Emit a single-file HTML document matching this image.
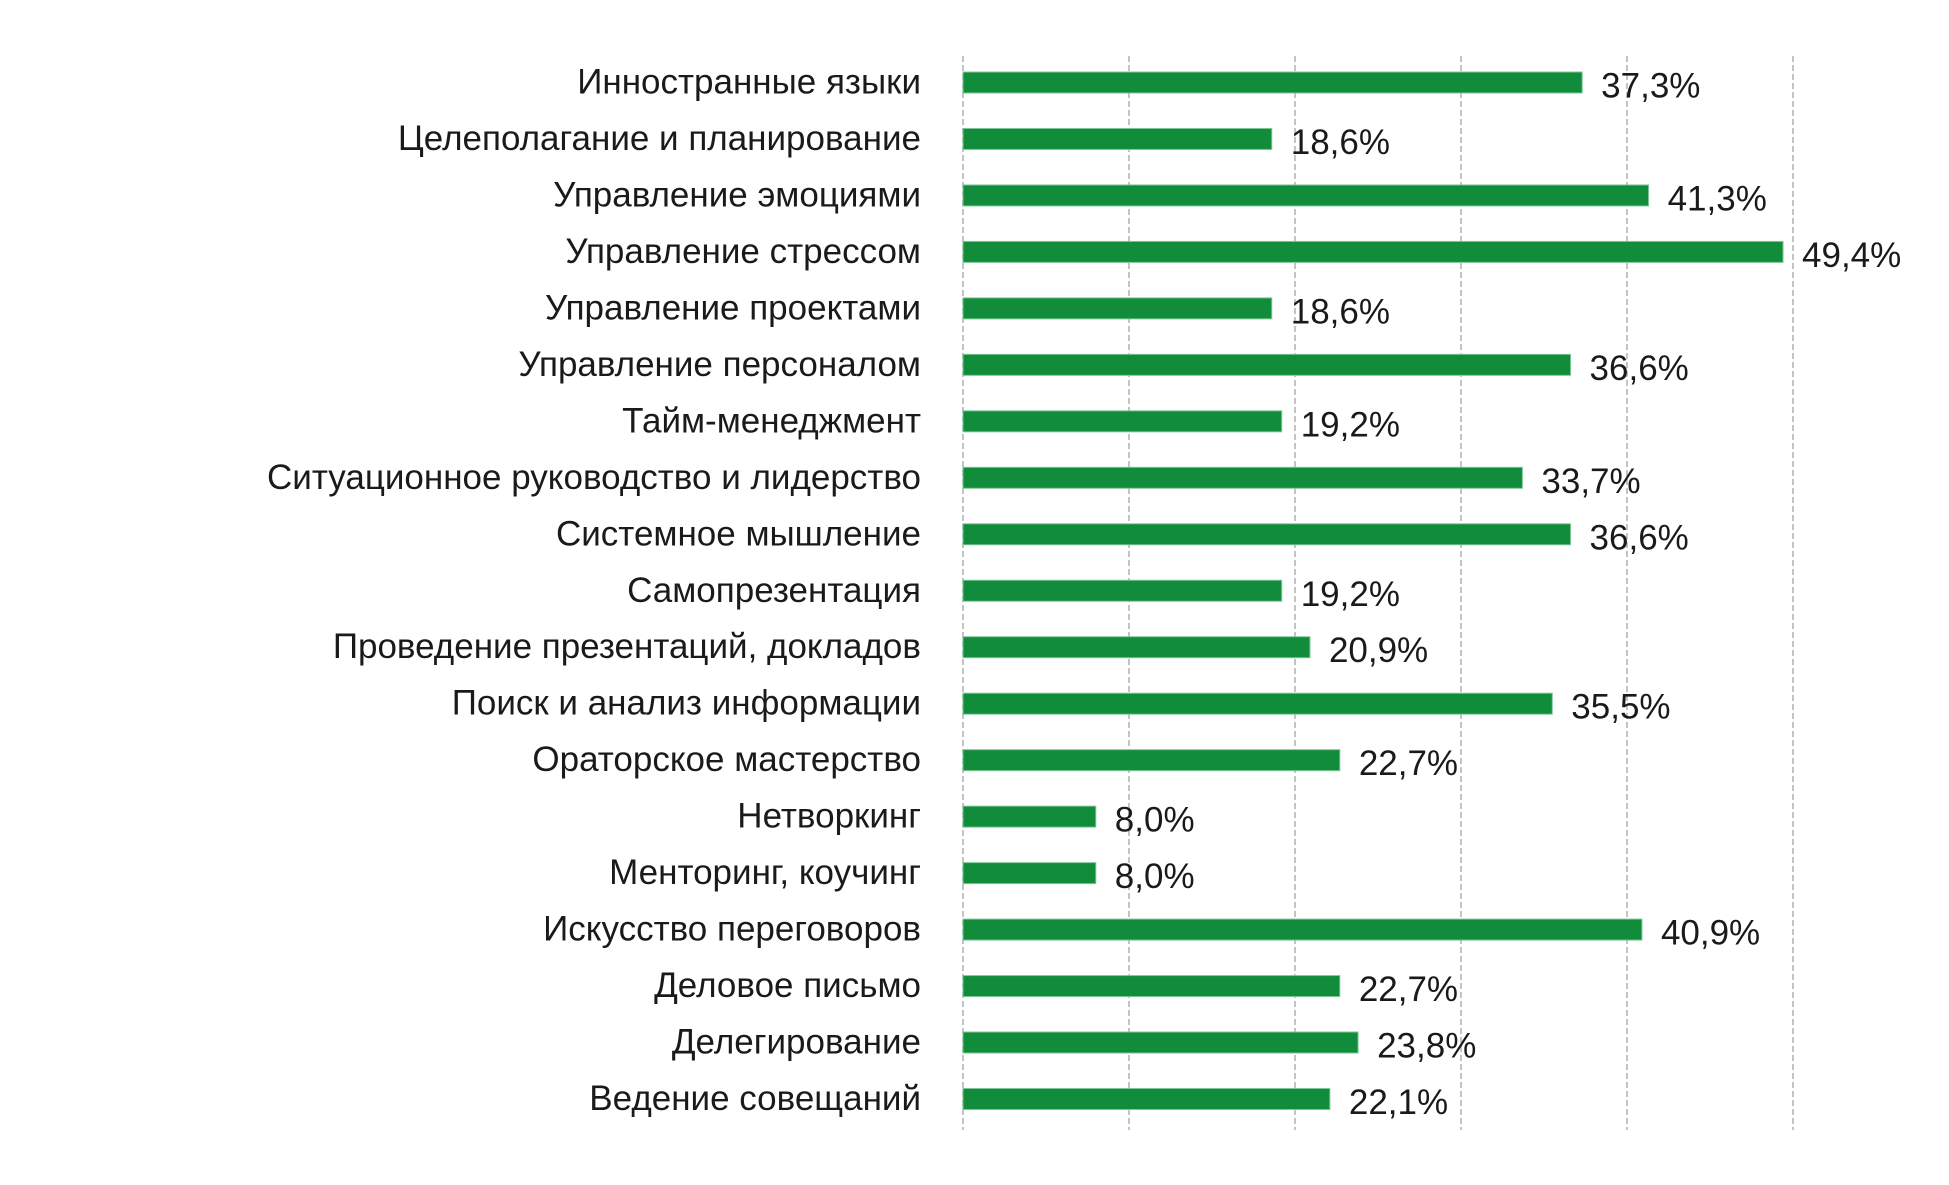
<!DOCTYPE html>
<html><head><meta charset="utf-8"><style>
html,body{margin:0;padding:0;background:#fff;}
svg{display:block;font-family:"Liberation Sans",sans-serif;}
</style></head><body>
<svg id="chart" width="1949" height="1185" viewBox="0 0 1949 1185" xmlns="http://www.w3.org/2000/svg">
<g id="grid"></g>
<g id="bars"></g>
<g id="labels"></g>
<g id="values"></g>
</svg>
<script>
const categories = ["Инностранные языки","Целеполагание и планирование","Управление эмоциями","Управление стрессом","Управление проектами","Управление персоналом","Тайм-менеджмент","Ситуационное руководство и лидерство","Системное мышление","Самопрезентация","Проведение презентаций, докладов","Поиск и анализ информации","Ораторское мастерство","Нетворкинг","Менторинг, коучинг","Искусство переговоров","Деловое письмо","Делегирование","Ведение совещаний"];
const values = [37.3,18.6,41.3,49.4,18.6,36.6,19.2,33.7,36.6,19.2,20.9,35.5,22.7,8.0,8.0,40.9,22.7,23.8,22.1];
const gridTicks = [0,10,20,30,40,50];

const NS="http://www.w3.org/2000/svg";
const x0=963, x1=1793, xMax=50;
const yTop=56, yBot=1130, firstC=82.5, lastC=1099;
function xs(v){return x0+(v/xMax)*(x1-x0);}
function yc(i){return firstC+i*(lastC-firstC)/(categories.length-1);}
function mk(t,a){const e=document.createElementNS(NS,t);for(const k in a)e.setAttribute(k,a[k]);return e;}

const g=document.getElementById('grid');
gridTicks.forEach(t=>{
  const l=mk('line',{x1:xs(t),x2:xs(t),y1:yTop,y2:yBot,stroke:'#c4c4c4','stroke-width':2,'stroke-dasharray':'6,3'});
  
  
  g.appendChild(l);
});
const b=document.getElementById('bars'), lb=document.getElementById('labels'), vl=document.getElementById('values');
categories.forEach((c,i)=>{
  const v=values[i], cy=yc(i), h=21;
  const r=mk('rect',{x:x0,y:cy-h/2,width:xs(v)-x0,height:h,fill:'#118c3a',stroke:'#7fc79a','stroke-width':1});
  
  
  b.appendChild(r);
  const t=mk('text',{x:921,y:cy+11,'text-anchor':'end','font-size':35,fill:'#1a1a1a'});
  t.textContent=c;
  
  
  lb.appendChild(t);
  const s=mk('text',{x:xs(v)+19,y:cy+15,'font-size':35,fill:'#1a1a1a'});
  s.textContent=v.toFixed(1).replace('.',',')+'%';
  
  
  vl.appendChild(s);
});
</script>
</body></html>
